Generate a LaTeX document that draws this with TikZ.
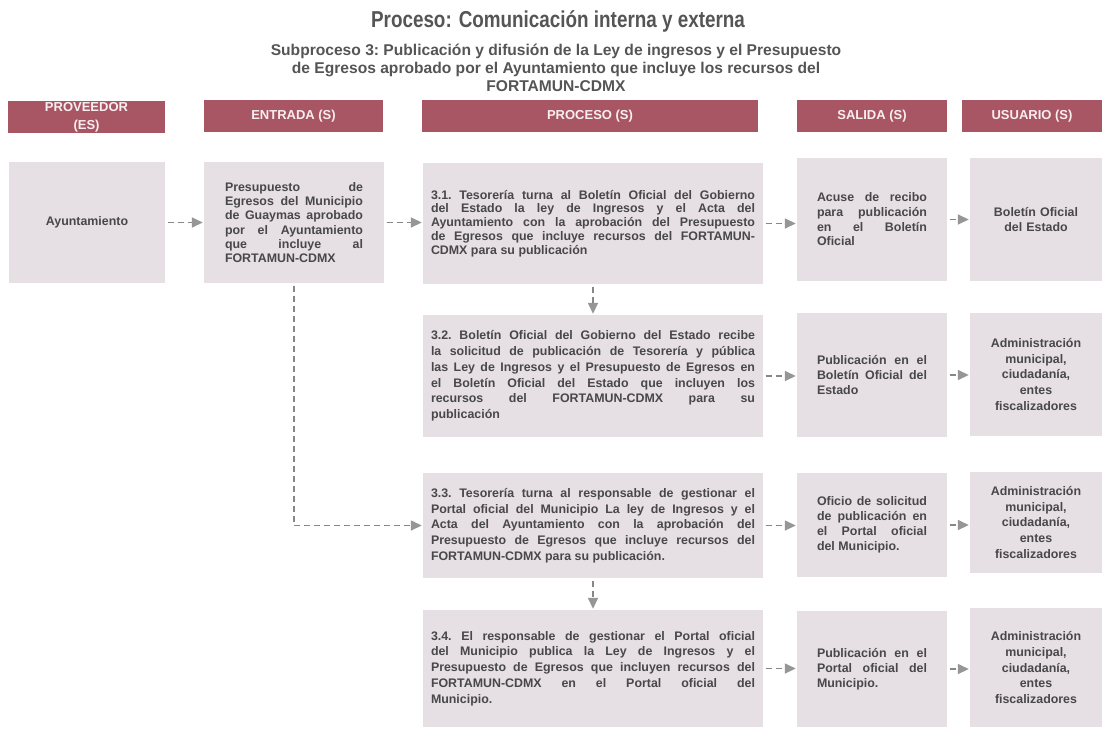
\documentclass[tikz,border=0pt]{standalone}
\usepackage{fontspec}
\setmainfont{Liberation Sans}
\newfontfamily\titlefont[FakeStretch=0.82]{Liberation Sans}
\usetikzlibrary{arrows.meta}
\definecolor{hdrc}{RGB}{168,86,99}
\definecolor{boxc}{RGB}{230,223,228}
\definecolor{txtc}{RGB}{72,72,72}
\definecolor{ttlc}{RGB}{85,85,85}
\definecolor{arrc}{RGB}{135,135,135}
\definecolor{tipc}{RGB}{150,150,150}
\definecolor{hdrtxt}{RGB}{248,238,240}
\newcommand{\bodyfont}[1]{\bfseries\fontsize{12.4}{#1}\selectfont\frenchspacing\tolerance=10000\hyphenpenalty=10000\relax}
\begin{document}
\begin{tikzpicture}[x=1pt,y=-1pt,
  hdr/.style={fill=hdrc, text=hdrtxt, font=\bfseries\fontsize{13}{18}\selectfont, align=center, inner sep=0pt, minimum height=32pt},
  box/.style={fill=boxc, text=txtc, inner ysep=0pt},
  jbox/.style={box, align=justify},
  cbox/.style={box, align=center},
  flow/.style={draw=arrc, line width=1.5pt, dash pattern=on 6pt off 4pt, -{Triangle[length=11pt,width=10pt,fill=tipc,color=tipc]}, shorten <=2.5pt, shorten >=1pt},
]
\useasboundingbox (0,0) rectangle (1102,729);
\fill[white] (0,0) rectangle (1102,729);

\node[text=ttlc, font=\titlefont\bfseries\fontsize{23}{26}\selectfont] (title) at (558,21) {Proceso: Comunicación interna y externa};
\node[text=ttlc, font=\bfseries\fontsize{15.6}{18}\selectfont\frenchspacing, align=center] (sub) at (556,68)
  {Subproceso 3: Publicación y difusión de la Ley de ingresos y el Presupuesto\\de Egresos aprobado por el Ayuntamiento que incluye los recursos del\\FORTAMUN-CDMX};

% headers
\node[hdr, minimum width=157pt] (h1) at (86.5,117) {PROVEEDOR\\(ES)};
\node[hdr, minimum width=179pt] (h2) at (293.5,116) {ENTRADA (S)};
\node[hdr, minimum width=336pt] (h3) at (590,116) {PROCESO (S)};
\node[hdr, minimum width=150pt] (h4) at (872,116) {SALIDA (S)};
\node[hdr, minimum width=140pt] (h5) at (1032,116) {USUARIO (S)};

% row 1
\node[cbox, font=\bodyfont{15}, minimum width=156pt, minimum height=121pt] (a) at (87,222.5) {Ayuntamiento};
\node[jbox, font=\bodyfont{14.2}, text width=138pt, inner xsep=21pt, minimum height=121pt] (e) at (294,222.5)
  {Presupuesto de\linebreak Egresos del Municipio\linebreak de Guaymas aprobado\linebreak por el Ayuntamiento\linebreak que incluye al\linebreak FORTAMUN-CDMX};
\node[jbox, font=\bodyfont{13.8}, text width=324pt, inner xsep=8pt, minimum height=121pt] (p1) at (593,223.5)
  {3.1. Tesorería turna al Boletín Oficial del Gobierno\linebreak del Estado la ley de Ingresos y el Acta del\linebreak Ayuntamiento con la aprobación del Presupuesto\linebreak de Egresos que incluye recursos del FORTAMUN-\linebreak CDMX para su publicación};
\node[jbox, font=\bodyfont{14.7}, text width=110pt, inner xsep=20pt, minimum height=123pt] (s1) at (872,219.5)
  {Acuse de recibo\linebreak para publicación\linebreak en el Boletín\linebreak Oficial};
\node[cbox, font=\bodyfont{15}, text width=120pt, inner xsep=6pt, minimum height=123pt] (u1) at (1036,219.5)
  {Boletín Oficial\\del Estado};

% row 2
\node[jbox, font=\bodyfont{15.8}, text width=324pt, inner xsep=8pt, minimum height=122pt] (p2) at (593,376)
  {3.2. Boletín Oficial del Gobierno del Estado recibe\linebreak la solicitud de publicación de Tesorería y pública\linebreak las Ley de Ingresos y el Presupuesto de Egresos en\linebreak el Boletín Oficial del Estado que incluyen los\linebreak recursos del FORTAMUN-CDMX para su\linebreak publicación};
\node[jbox, font=\bodyfont{15}, text width=110pt, inner xsep=20pt, minimum height=124pt] (s2) at (872,375)
  {Publicación en el\linebreak Boletín Oficial del\linebreak Estado};
\node[cbox, font=\bodyfont{15.8}, text width=120pt, inner xsep=6pt, minimum height=123pt] (u2) at (1036,374.5)
  {Administración\\municipal,\\ciudadanía,\\entes\\fiscalizadores};

% row 3
\node[jbox, font=\bodyfont{15.7}, text width=324pt, inner xsep=8pt, minimum height=105pt] (p3) at (593,525.5)
  {3.3. Tesorería turna al responsable de gestionar el\linebreak Portal oficial del Municipio La ley de Ingresos y el\linebreak Acta del Ayuntamiento con la aprobación del\linebreak Presupuesto de Egresos que incluye recursos del\linebreak FORTAMUN-CDMX para su publicación.};
\node[jbox, font=\bodyfont{15}, text width=110pt, inner xsep=20pt, minimum height=104pt] (s3) at (872,525)
  {Oficio de solicitud\linebreak de publicación en\linebreak el Portal oficial\linebreak del Municipio.};
\node[cbox, font=\bodyfont{15.6}, text width=120pt, inner xsep=6pt, minimum height=101pt] (u3) at (1036,522.5)
  {Administración\\municipal,\\ciudadanía,\\entes\\fiscalizadores};

% row 4
\node[jbox, font=\bodyfont{15.8}, text width=324pt, inner xsep=8pt, minimum height=117pt] (p4) at (593,668.5)
  {3.4. El responsable de gestionar el Portal oficial\linebreak del Municipio publica la Ley de Ingresos y el\linebreak Presupuesto de Egresos que incluyen recursos del\linebreak FORTAMUN-CDMX en el Portal oficial del\linebreak Municipio.};
\node[jbox, font=\bodyfont{15}, text width=110pt, inner xsep=20pt, minimum height=116pt] (s4) at (872,669)
  {Publicación en el\linebreak Portal oficial del\linebreak Municipio.};
\node[cbox, font=\bodyfont{15.8}, text width=120pt, inner xsep=6pt, minimum height=119pt] (u4) at (1036,667.5)
  {Administración\\municipal,\\ciudadanía,\\entes\\fiscalizadores};

% connectors
\draw[flow] (a.east) -- (a.east -| e.west);
\draw[flow] (e.east) -- (e.east -| p1.west);
\draw[flow] (p1.east) -- (p1.east -| s1.west);
\draw[flow] (s1.east) -- (s1.east -| u1.west);
\draw[flow] (p1.south) -- (p2.north);
\draw[flow] (p2.east) -- (p2.east -| s2.west);
\draw[flow] (s2.east) -- (s2.east -| u2.west);
\draw[flow] (e.south) |- (p3.west);
\draw[flow] (p3.east) -- (p3.east -| s3.west);
\draw[flow] (s3.east) -- (s3.east -| u3.west);
\draw[flow] (p3.south) -- (p4.north);
\draw[flow] (p4.east) -- (p4.east -| s4.west);
\draw[flow] (s4.east) -- (s4.east -| u4.west);
\end{tikzpicture}
\end{document}
